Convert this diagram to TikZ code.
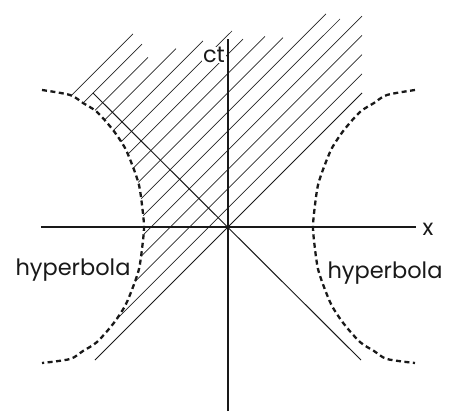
\documentclass[tikz,border=0pt]{standalone}
\usepackage{fontspec}
\setmainfont{Poppins}
\usetikzlibrary{intersections}
\tikzset{
  axisline/.style={line width=2pt, black!90},
  hatchline/.style={line width=0.7pt, black!85},
  coneline/.style={line width=1pt, black!90},
  hypline/.style={line width=2.3pt, black!90, dash pattern=on 5pt off 3.5pt},
  lbl/.style={font=\fontsize{22.5}{26}\selectfont, inner sep=0pt, text=black!90}
}
\begin{document}
\begin{tikzpicture}[x=1pt,y=1pt]
\useasboundingbox (-228,-185) rectangle (222,227);
% left hyperbola path (for intersections)
\path[name path=hypL] plot[smooth] coordinates {(-186,137) (-158,132) (-145,124) (-131,115) (-115,97) (-103,79) (-95,60) (-89,42) (-86,22) (-84,0) (-86,-22) (-89,-42) (-95,-60) (-103,-79) (-115,-97) (-131,-115) (-145,-124) (-158,-132) (-186,-136)};
% hatch lines
\foreach \k/\xt in {1/134,2/134,3/134,4/134,5/112,6/98,7/55,8/37,9/15,10/4,11/-25,12/-52,13/-80,14/-86,15/-95} {
  \pgfmathsetmacro{\yt}{\xt+19.2*\k}
  \coordinate (t) at (\xt,\yt);
  \path[name path=hl] (t) -- ++(-320,-320);
  \draw[hatchline, name intersections={of=hl and hypL, sort by=hl, by={s}}] (t) -- (s);
}
% light cone
\coordinate (O) at (0,0);
\coordinate (c1a) at (-133,-133);
\coordinate (c1b) at (134,134);
\coordinate (c2a) at (-135,134);
\coordinate (c2b) at (133,-133);
\draw[coneline] (c1a) -- (c1b);
\draw[coneline] (c2a) -- (c2b);
% ct label
\node[lbl, fill=white, inner sep=0.6pt] (ct) at (-14,172) {ct};
% axes
\coordinate (xa) at (-187,0);
\coordinate (xb) at (188,0);
\coordinate (ya) at (0,-184);
\coordinate (yb) at (0,188);
\draw[axisline] (xa) -- (xb);
\draw[axisline] (ya) -- (yb);
% hyperbolas
\draw[hypline] plot[smooth] coordinates {(-186,137) (-158,132) (-145,124) (-131,115) (-115,97) (-103,79) (-95,60) (-89,42) (-86,22) (-84,0) (-86,-22) (-89,-42) (-95,-60) (-103,-79) (-115,-97) (-131,-115) (-145,-124) (-158,-132) (-186,-136)};
\draw[hypline] plot[smooth] coordinates {(187,137) (159,132) (146,124) (132,115) (116,97) (104,79) (96,60) (90,42) (87,22) (85,0) (87,-22) (90,-42) (96,-60) (104,-79) (116,-97) (132,-115) (146,-124) (159,-132) (187,-136)};
% labels
\node[lbl] (xl) at (200,-2) {x};
\node[lbl] (hl1) at (-155,-43) {hyperbola};
\node[lbl] (hl2) at (157,-46) {hyperbola};
\end{tikzpicture}
\end{document}
